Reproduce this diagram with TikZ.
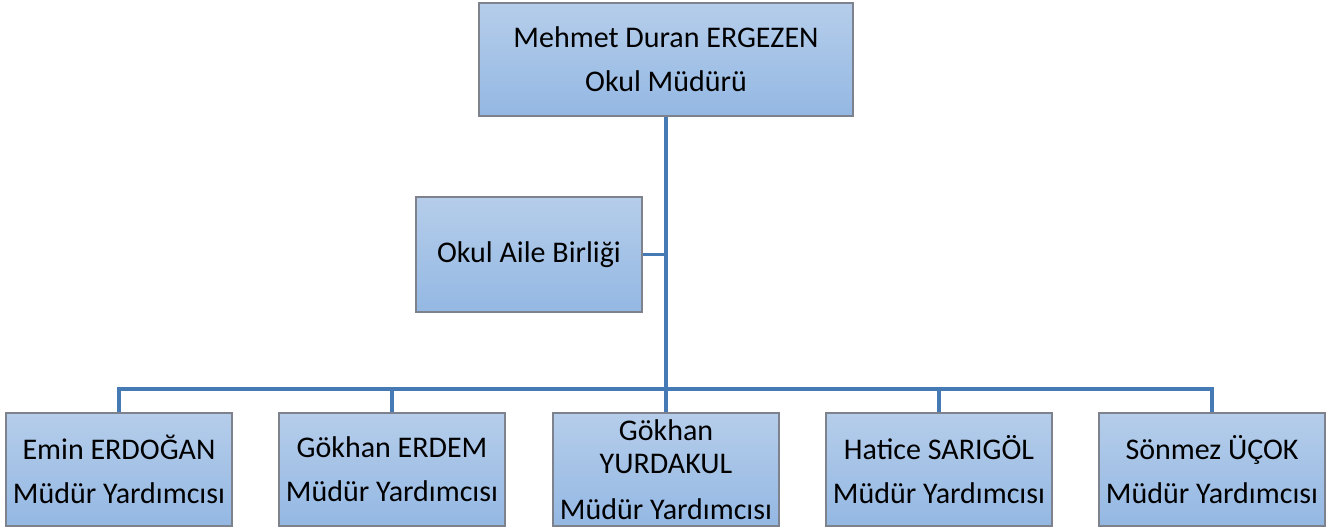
\documentclass[tikz,border=0pt]{standalone}
\usepackage{fontspec}
\setmainfont{Carlito}
\definecolor{boxtop}{RGB}{181,205,234}
\definecolor{boxbot}{RGB}{148,184,227}
\definecolor{boxline}{RGB}{125,130,140}
\definecolor{linkcol}{RGB}{70,122,180}
\tikzset{
  orgbox/.style={draw=boxline, line width=1.2pt, top color=boxtop, bottom color=boxbot,
    minimum width=226pt, minimum height=113pt, inner sep=0pt, align=center,
    font=\fontsize{30}{44}\selectfont},
  link/.style={draw=linkcol, line width=3.4pt}
}
\begin{document}
\begin{tikzpicture}[x=1pt,y=-1pt]
\useasboundingbox (0,0) rectangle (1340,527);
\node[orgbox, minimum width=374pt] (top) at (666,59.5) {Mehmet Duran ERGEZEN\\Okul Müdürü};
\node[orgbox, minimum height=115pt] (aile) at (529,254.5) {Okul Aile Birliği};
\node[orgbox] (b1) at (119,469.5) {Emin ERDOĞAN\\Müdür Yardımcısı};
\node[orgbox] (b2) at (392,469.5) {Gökhan ERDEM\\Müdür Yardımcısı};
\node[orgbox, font=\fontsize{30}{33}\selectfont] (b3) at (666,469.5) {Gökhan\\YURDAKUL\\[13pt]Müdür Yardımcısı};
\node[orgbox] (b4) at (939,469.5) {Hatice SARIGÖL\\Müdür Yardımcısı};
\node[orgbox] (b5) at (1212,469.5) {Sönmez ÜÇOK\\Müdür Yardımcısı};
\coordinate (j) at (666,389);
\draw[link] (top.south) -- (j);
\draw[link] (aile.east) -- (aile.east -| j);
\draw[link] (b1.north) |- (j) -| (b5.north);
\draw[link] (b2.north) -- (b2.north |- j);
\draw[link] (b3.north) -- (j);
\draw[link] (b4.north) -- (b4.north |- j);
\end{tikzpicture}
\end{document}
